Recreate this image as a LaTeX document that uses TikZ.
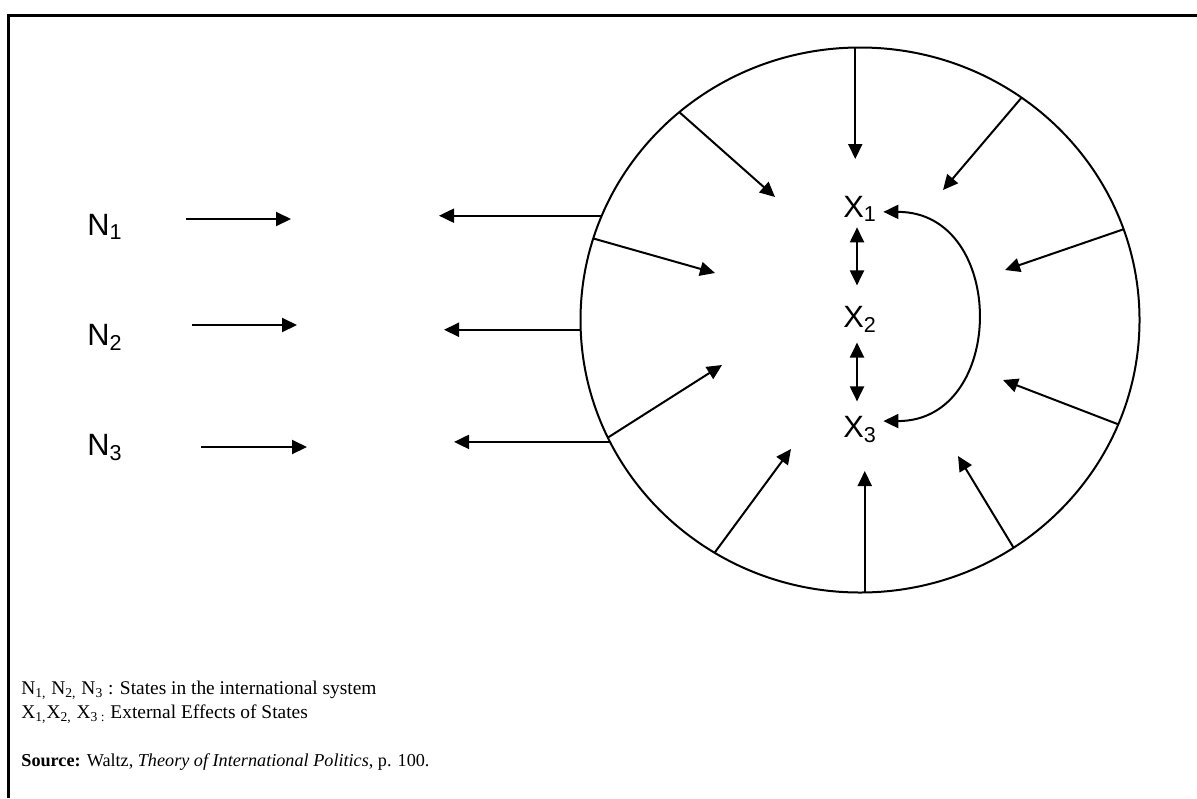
\documentclass[tikz,border=0pt]{standalone}
\usepackage{fontspec}
\setmainfont{Liberation Serif}
\newfontfamily\arialfont{Liberation Sans}
\usetikzlibrary{arrows.meta,shapes.geometric}

\begin{document}
\begin{tikzpicture}[x=0.5pt, y=-0.5pt,
        arr/.style={line width=1pt, -{Triangle[length=7.5pt,width=7pt]}},
        twoway/.style={line width=1pt, {Triangle[length=7.5pt,width=7pt]}-{Triangle[length=7.5pt,width=7pt]}},
        lbl/.style={anchor=base west, inner sep=0, font=\arialfont\fontsize{15.4}{18}\selectfont},
        legend/.style={anchor=base west, inner sep=0, font=\fontsize{9.7}{12}\selectfont}]
        \useasboundingbox (0,0) rectangle (1197,798);
        \draw [line width=1.5pt] (8,798) -- (8,15) -- (1197,15);

        \node [draw, ellipse, line width=1pt, minimum width=279.5pt, minimum height=272.5pt, inner sep=0, outer sep=0] (sys) at (860,320) {};

        \node [lbl] (N1) at (87,235) {N\textsubscript{1}};
        \node [lbl] (N2) at (87,345) {N\textsubscript{2}};
        \node [lbl] (N3) at (87,455) {N\textsubscript{3}};
        \node [lbl] (X1) at (843,217) {X\textsubscript{1}};
        \node [lbl] (X2) at (843,327) {X\textsubscript{2}};
        \node [lbl] (X3) at (843,437) {X\textsubscript{3}};

        \coordinate (n1) at (186,219);
        \coordinate (m1) at (291,219);
        \coordinate (n2) at (192,325);
        \coordinate (m2) at (297,325);
        \coordinate (n3) at (201,447);
        \coordinate (m3) at (307,447);
        \draw [arr] (n1) -- (m1);
        \draw [arr] (n2) -- (m2);
        \draw [arr] (n3) -- (m3);

        \coordinate (o1) at (439,216);
        \coordinate (o2) at (444,331);
        \coordinate (o3) at (454,446);
        \draw [arr] (sys.158.5) -- (sys.158.5 -| o1);
        \draw [arr] (sys.182.3) -- (sys.182.3 -| o2);
        \draw [arr] (sys.206.9) -- (sys.206.9 -| o3);

        \coordinate (h1) at (852,159);
        \coordinate (h2) at (775,197);
        \coordinate (h3) at (943,190);
        \coordinate (h4) at (715,273);
        \coordinate (h5) at (1005,270);
        \coordinate (h6) at (1003,380);
        \coordinate (h7) at (722,365);
        \coordinate (h8) at (791,449);
        \coordinate (h9) at (867,471);
        \coordinate (h10) at (958,456);
        \draw [arr] (sys.91.7) -- (sys.91.7 |- h1);
        \draw [arr] (sys.131.1) -- (h2);
        \draw [arr] (sys.54.9) -- (h3);
        \draw [arr] (sys.163.9) -- (h4);
        \draw [arr] (sys.19.7) -- (h5);
        \draw [arr] (sys.-22.1) -- (h6);
        \draw [arr] (sys.205.6) -- (h7);
        \draw [arr] (sys.238.4) -- (h8);
        \draw [arr] (sys.271.5) -- (sys.271.5 |- h9);
        \draw [arr] (sys.304.9) -- (h10);

        \draw [twoway, shorten <=2.5pt, shorten >=10pt] ([xshift=7pt]X1.south west) -- ([xshift=7pt]X2.north west);
        \draw [twoway, shorten <=5pt, shorten >=7pt] ([xshift=7pt]X2.south west) -- ([xshift=7pt]X3.north west);
        \draw [twoway, shorten <=3pt, shorten >=3pt] ([yshift=-1.5pt]X1.east) .. controls +(130,0) and +(130,0) .. ([yshift=4pt]X3.east);

        \node [legend] (L1) at (21,694) {N\textsubscript{1,} N\textsubscript{2,} N\textsubscript{3} : States in the international system};
        \node [legend] (L2) at (21,718) {X\textsubscript{1,}X\textsubscript{2,} X\textsubscript{3 :} External Effects of States};
        \node [legend, font=\fontsize{9.1}{12}\selectfont] (L3) at (21,766) {\textbf{Source:} Waltz, \textit{Theory of International Politics}, p. 100.};
    \end{tikzpicture}
\end{document}
